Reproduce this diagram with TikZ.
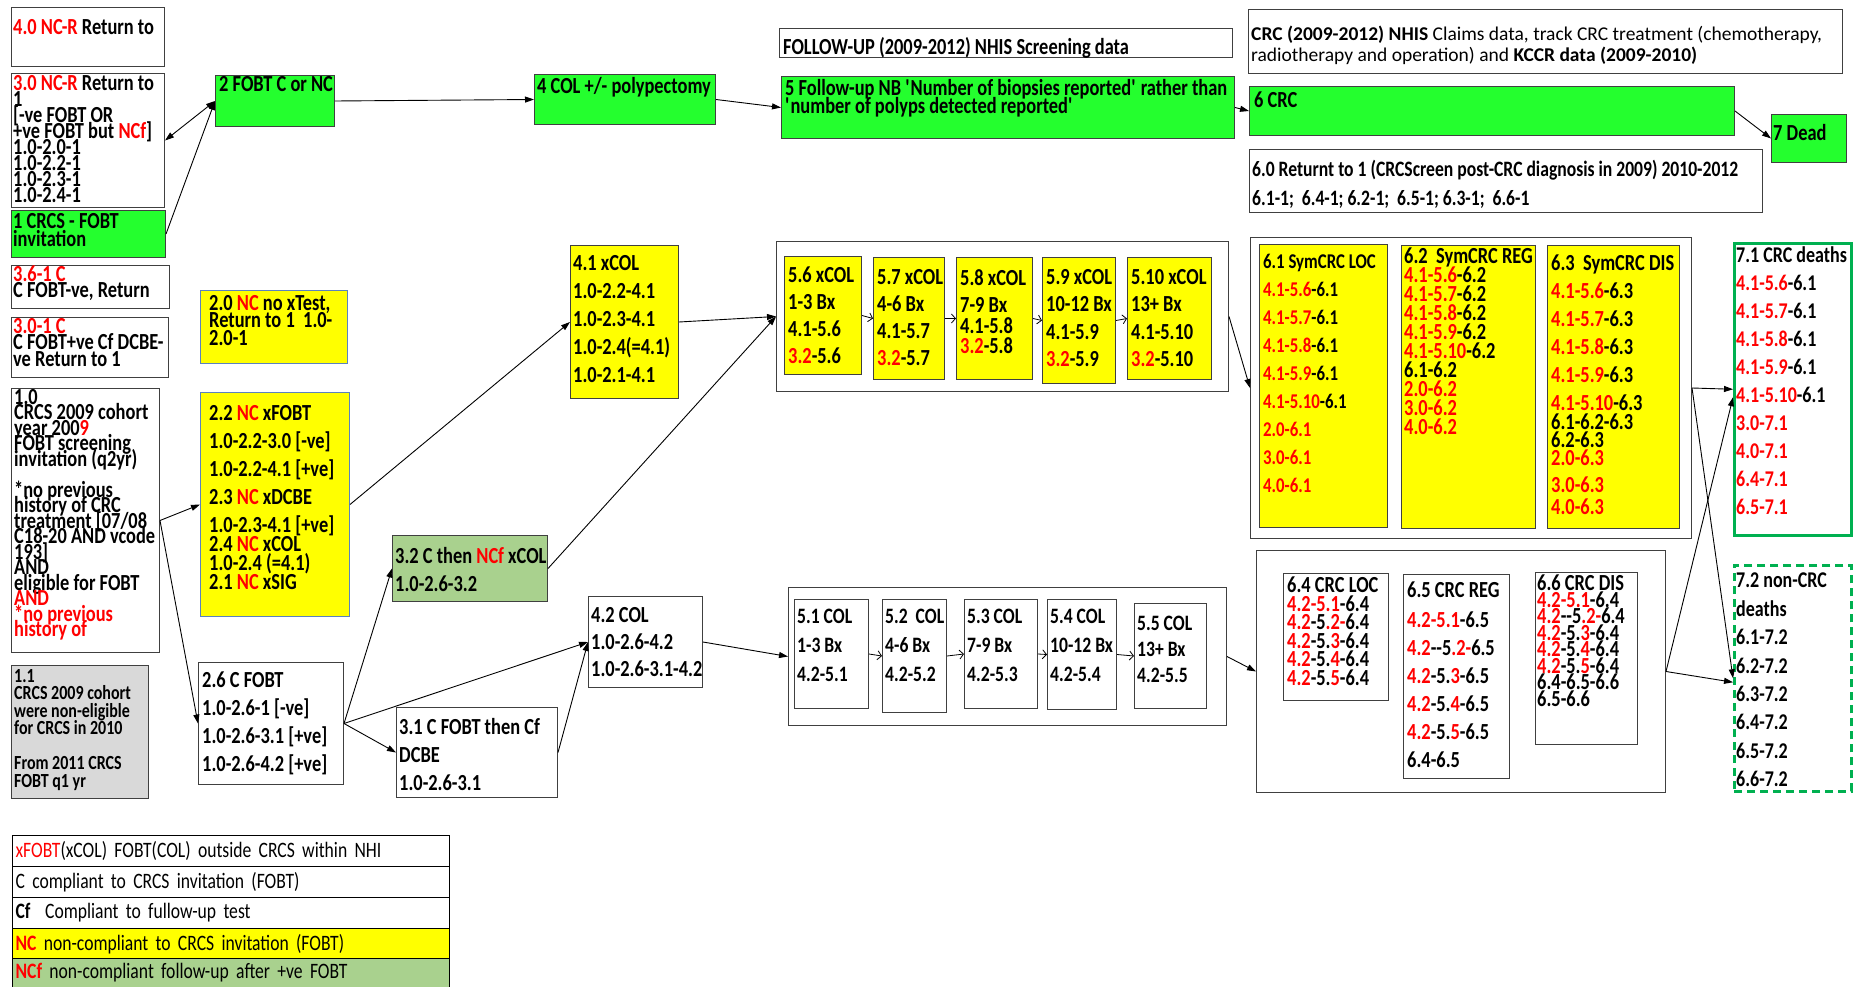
\documentclass[tikz,border=0pt]{standalone}
\usepackage{fontspec}
\setmainfont{Carlito}[FakeStretch=0.8]
\newfontfamily\plainfont{Carlito}
\usetikzlibrary{arrows.meta}
\definecolor{cgreen}{RGB}{36,255,46}
\definecolor{cyel}{RGB}{255,255,0}
\definecolor{clgreen}{RGB}{169,209,142}
\definecolor{cgrey}{RGB}{217,217,217}
\definecolor{cline}{RGB}{64,64,64}
\definecolor{cblue}{RGB}{91,130,190}
\definecolor{cdeath}{RGB}{0,176,80}
\newcommand{\rd}[1]{\textcolor{red}{#1}}
\newcommand{\fs}[2]{\fontsize{#1}{#2}\selectfont\bfseries\lineskiplimit=-100pt\lineskip=0pt\relax}
\begin{document}
\begin{tikzpicture}[x=1pt,y=-1pt,
  box/.style={draw=cline,line width=1pt,anchor=north west,inner sep=0pt},
  txt/.style={anchor=north west,align=left,inner sep=0pt,font=\fs{23}{#1}},
  txt/.default=28,
  arr/.style={-{Triangle[length=9pt,width=6pt]},line width=0.9pt},
  arrb/.style={{Triangle[length=9pt,width=6pt]}-{Triangle[length=9pt,width=6pt]},line width=0.9pt},
  arrs/.style={-{Straight Barb[length=4pt,width=9pt]},line width=0.8pt},
  leg/.style={draw=black,line width=1.2pt,anchor=north west,minimum width=437pt,minimum height=31pt,text width=431pt,align=left,inner xsep=3pt,inner ysep=0pt,font=\fs{22}{26}\mdseries}]
  \path[use as bounding box,fill=white] (0,0) rectangle (1854,987);
  % left column
  \node[box,minimum width=153pt,minimum height=59pt] (n40) at (11,7) {};
  \node[txt] (t40) at ([shift={(2,12)}]n40.north west) {\rd{4.0 NC-R} Return to};
  \node[box,minimum width=153pt,minimum height=134pt] (n30) at (11,73) {};
  \node[txt=16] (t30) at ([shift={(2,2)}]n30.north west) {\rd{3.0 NC-R} Return to\\1\\{}[-ve FOBT OR\\+ve FOBT but \rd{NCf}]\\1.0-2.0-1\\1.0-2.2-1\\1.0-2.3-1\\1.0-2.4-1};
  \node[box,fill=cgreen,minimum width=154pt,minimum height=47pt] (n1) at (11,210) {};
  \node[txt=18] (t1) at ([shift={(2,3)}]n1.north west) {1 CRCS - FOBT\\invitation};
  \node[box,minimum width=158pt,minimum height=43pt] (n361) at (11,265) {};
  \node[txt=16] (t361) at ([shift={(2,1)}]n361.north west) {\rd{3.6-1 C}\\C FOBT-ve, Return};
  \node[box,minimum width=157pt,minimum height=60pt] (n301) at (11,317) {};
  \node[txt=16.5] (t301) at ([shift={(2,1)}]n301.north west) {\rd{3.0-1 C}\\C FOBT+ve Cf DCBE-\\ve Return to 1};
  \node[box,minimum width=148pt,minimum height=264pt] (n10) at (11,388) {};
  \node[txt=15.5] (t10) at ([shift={(3,1)}]n10.north west) {1.0\\CRCS 2009 cohort\\year 200\rd{9}\\FOBT screening\\invitation (q2yr)\\\mbox{}\\{}*no previous\\history of CRC\\treatment [07/08\\C18-20 AND vcode\\193]\\AND\\eligible for FOBT\\\rd{AND}\\\rd{*no previous}\\\rd{history of}};
  \node[box,fill=cgrey,minimum width=137pt,minimum height=133pt] (n11) at (11,665) {};
  \node[txt,font=\fs{20}{17.5}] (t11) at ([shift={(3,4)}]n11.north west) {1.1\\CRCS 2009 cohort\\were non-eligible\\for CRCS in 2010\\\mbox{}\\From 2011 CRCS\\FOBT q1 yr};
  % second column
  \node[box,fill=cgreen,minimum width=119pt,minimum height=51pt] (n2) at (215,75) {};
  \node[txt] (t2) at ([shift={(4,1)}]n2.north west) {2 FOBT C or NC};
  \node[box,draw=cblue,fill=cyel,minimum width=147pt,minimum height=73pt] (n20) at (200,290) {};
  \node[txt=17.5] (t20) at ([shift={(9,5)}]n20.north west) {2.0 \rd{NC} no xTest,\\Return to 1~~1.0-\\2.0-1};
  \node[box,draw=cblue,fill=cyel,minimum width=149pt,minimum height=224pt] (n22) at (200,392) {};
  \node[txt] (t22) at ([shift={(9,13)}]n22.north west) {2.2 \rd{NC} xFOBT\\1.0-2.2-3.0 [-ve]\\1.0-2.2-4.1 [+ve]\\2.3 \rd{NC} xDCBE\\1.0-2.3-4.1 [+ve]\\[-9pt]2.4 \rd{NC} xCOL\\[-9pt]1.0-2.4 (=4.1)\\[-9pt]2.1 \rd{NC} xSIG};
  \node[box,minimum width=145pt,minimum height=122pt] (n26) at (198,662) {};
  \node[txt] (t26) at ([shift={(4,10)}]n26.north west) {2.6 C FOBT\\1.0-2.6-1 [-ve]\\1.0-2.6-3.1 [+ve]\\1.0-2.6-4.2 [+ve]};
  % third column
  \node[box,fill=cgreen,minimum width=181pt,minimum height=50pt] (n4) at (534,74) {};
  \node[txt] (t4) at ([shift={(3,3)}]n4.north west) {4 COL +/- polypectomy};
  \node[box,fill=cyel,minimum width=108pt,minimum height=153pt] (n41) at (570,245) {};
  \node[txt] (t41) at ([shift={(3,10)}]n41.north west) {4.1 xCOL\\1.0-2.2-4.1\\1.0-2.3-4.1\\1.0-2.4(=4.1)\\1.0-2.1-4.1};
  \node[box,fill=clgreen,minimum width=155pt,minimum height=66pt] (n32) at (392,535) {};
  \node[txt] (t32) at ([shift={(3,12)}]n32.north west) {3.2 C then \rd{NCf} xCOL\\1.0-2.6-3.2};
  \node[box,minimum width=114pt,minimum height=91pt] (n42) at (588,596) {};
  \node[txt=27] (t42) at ([shift={(3,11)}]n42.north west) {4.2 COL\\1.0-2.6-4.2\\1.0-2.6-3.1-4.2};
  \node[box,minimum width=161pt,minimum height=90pt] (n31) at (396,707) {};
  \node[txt] (t31) at ([shift={(3,11)}]n31.north west) {3.1 C FOBT then Cf\\DCBE\\1.0-2.6-3.1};
  % follow-up
  \node[box,minimum width=453pt,minimum height=29pt] (nfu) at (779,28) {};
  \node[txt] (tfu) at ([shift={(4,9)}]nfu.north west) {FOLLOW-UP (2009-2012) NHIS Screening data};
  \node[box,fill=cgreen,minimum width=453pt,minimum height=62pt] (n5) at (781,76) {};
  \node[txt=18] (t5) at ([shift={(4,3)}]n5.north west) {5 Follow-up NB \textquotesingle Number of biopsies reported\textquotesingle{} rather than\\\textquotesingle number of polyps detected reported\textquotesingle};
  \node[box,minimum width=452pt,minimum height=150pt] (box5x) at (776,241) {};
  \node[box,fill=cyel,minimum width=77pt,minimum height=118pt] (n56) at (784,256) {};
  \node[txt=27] (t56) at ([shift={(4,11)}]n56.north west) {5.6 xCOL\\1-3 Bx\\4.1-5.6\\\rd{3.2}-5.6};
  \node[box,fill=cyel,minimum width=71pt,minimum height=122pt] (n57) at (873,257) {};
  \node[txt=27] (t57) at ([shift={(4,12)}]n57.north west) {5.7 xCOL\\4-6 Bx\\4.1-5.7\\\rd{3.2}-5.7};
  \node[box,fill=cyel,minimum width=76pt,minimum height=122pt] (n58) at (956,257) {};
  \node[txt=27] (t58) at ([shift={(4,12)}]n58.north west) {5.8 xCOL\\7-9 Bx\\[-6pt]4.1-5.8\\[-7pt]\rd{3.2}-5.8};
  \node[box,fill=cyel,minimum width=73pt,minimum height=126pt] (n59) at (1042,257) {};
  \node[txt=27.5] (t59) at ([shift={(4,12)}]n59.north west) {5.9 xCOL\\10-12 Bx\\4.1-5.9\\\rd{3.2}-5.9};
  \node[box,fill=cyel,minimum width=84pt,minimum height=122pt] (n510) at (1127,257) {};
  \node[txt=27.5] (t510) at ([shift={(4,12)}]n510.north west) {5.10 xCOL\\13+ Bx\\4.1-5.10\\\rd{3.2}-5.10};
  \node[box,minimum width=438pt,minimum height=138pt] (box5c) at (788,587) {};
  \node[box,minimum width=74pt,minimum height=109pt] (n51) at (794,599) {};
  \node[txt,font=\fs{22}{29}] (t51) at ([shift={(3,10)}]n51.north west) {5.1 COL\\1-3 Bx\\4.2-5.1};
  \node[box,minimum width=64pt,minimum height=113pt] (n52) at (882,599) {};
  \node[txt,font=\fs{22}{29}] (t52) at ([shift={(3,10)}]n52.north west) {5.2~~COL\\4-6 Bx\\4.2-5.2};
  \node[box,minimum width=73pt,minimum height=109pt] (n53) at (964,599) {};
  \node[txt,font=\fs{22}{29}] (t53) at ([shift={(3,10)}]n53.north west) {5.3 COL\\7-9 Bx\\4.2-5.3};
  \node[box,minimum width=69pt,minimum height=110pt] (n54) at (1047,599) {};
  \node[txt,font=\fs{22}{29}] (t54) at ([shift={(3,10)}]n54.north west) {5.4 COL\\10-12 Bx\\4.2-5.4};
  \node[box,minimum width=72pt,minimum height=105pt] (n55) at (1134,603) {};
  \node[txt,font=\fs{22}{26}] (t55) at ([shift={(3,13)}]n55.north west) {5.5 COL\\13+ Bx\\4.2-5.5};
  % CRC and death
  \node[box,minimum width=594pt,minimum height=64pt] (ncrc) at (1248,9) {};
  \node[txt,font=\plainfont\fontsize{19.5}{21}\selectfont] (tcrc) at ([shift={(3,17)}]ncrc.north west) {\textbf{CRC (2009-2012) NHIS} Claims data, track CRC treatment (chemotherapy,\\radiotherapy and operation) and \textbf{KCCR data (2009-2010)}};
  \node[box,fill=cgreen,minimum width=485pt,minimum height=49pt] (n6) at (1249,86) {};
  \node[txt] (t6) at ([shift={(5,6)}]n6.north west) {6 CRC};
  \node[box,fill=cgreen,minimum width=75pt,minimum height=48pt] (n7) at (1771,114) {};
  \node[txt] (t7) at ([shift={(2,10)}]n7.north west) {7 Dead};
  \node[box,minimum width=513pt,minimum height=63pt] (n60) at (1249,149) {};
  \node[txt=29,font=\fs{22}{29}] (t60) at ([shift={(3,11)}]n60.north west) {6.0 Returnt to 1 (CRCScreen post-CRC diagnosis in 2009) 2010-2012\\6.1-1;~ 6.4-1; 6.2-1;~ 6.5-1; 6.3-1;~ 6.6-1};
  \node[box,minimum width=441pt,minimum height=301pt] (box6s) at (1250,237) {};
  \node[box,fill=cyel,minimum width=128pt,minimum height=283pt] (n61) at (1259,244) {};
  \node[txt,font=\fs{21}{28}] (t61) at ([shift={(4,10)}]n61.north west) {6.1 SymCRC LOC\\\rd{4.1-5.6}-6.1\\\rd{4.1-5.7}-6.1\\\rd{4.1-5.8}-6.1\\\rd{4.1-5.9}-6.1\\\rd{4.1-5.10}-6.1\\\rd{2.0-6.1}\\\rd{3.0-6.1}\\\rd{4.0-6.1}};
  \node[box,fill=cyel,minimum width=134pt,minimum height=283pt] (n62) at (1401,245) {};
  \node[txt=19] (t62) at ([shift={(3,3)}]n62.north west) {6.2~~SymCRC REG\\\rd{4.1-5.6}-6.2\\\rd{4.1-5.7}-6.2\\\rd{4.1-5.8}-6.2\\\rd{4.1-5.9}-6.2\\\rd{4.1-5.10}-6.2\\6.1-6.2\\\rd{2.0-6.2}\\\rd{3.0-6.2}\\\rd{4.0-6.2}};
  \node[box,fill=cyel,minimum width=132pt,minimum height=283pt] (n63) at (1547,245) {};
  \node[txt] (t63) at ([shift={(4,10)}]n63.north west) {6.3~~SymCRC DIS\\\rd{4.1-5.6}-6.3\\\rd{4.1-5.7}-6.3\\\rd{4.1-5.8}-6.3\\\rd{4.1-5.9}-6.3\\\rd{4.1-5.10}-6.3\\[-9pt]6.1-6.2-6.3\\[-10pt]6.2-6.3\\[-10pt]\rd{2.0-6.3}\\[-1pt]\rd{3.0-6.3}\\[-6pt]\rd{4.0-6.3}};
  \node[box,minimum width=409pt,minimum height=242pt] (box6c) at (1256,550) {};
  \node[box,minimum width=105pt,minimum height=127pt] (n64) at (1283,573) {};
  \node[txt=18.5] (t64) at ([shift={(4,4)}]n64.north west) {6.4 CRC LOC\\\rd{4.2-5.1}-6.4\\\rd{4.2}-5\rd{.2-}6.4\\\rd{4.2}-5.\rd{3}-6.4\\\rd{4.2}-5.\rd{4}-6.4\\\rd{4.2}-5.\rd{5}-6.4};
  \node[box,minimum width=106pt,minimum height=204pt] (n65) at (1403,574) {};
  \node[txt] (t65) at ([shift={(4,8)}]n65.north west) {6.5 CRC REG\\[2pt]\rd{4.2-5.1}-6.5\\\rd{4.2}-{}-5\rd{.2-}6.5\\\rd{4.2}-5.\rd{3}-6.5\\\rd{4.2}-5.\rd{4}-6.5\\\rd{4.2}-5.\rd{5}-6.5\\6.4-6.5};
  \node[box,minimum width=102pt,minimum height=172pt] (n66) at (1535,572) {};
  \node[txt=16.5] (t66) at ([shift={(2,3)}]n66.north west) {6.6 CRC DIS\\\rd{4.2-5.1}-6.4\\\rd{4.2}-{}-5\rd{.2-}6.4\\\rd{4.2}-5.\rd{3}-6.4\\\rd{4.2}-5.\rd{4}-6.4\\\rd{4.2}-5.\rd{5}-6.4\\6.4-6.5-6.6\\6.5-6.6};
  \node[box,draw=cdeath,line width=2.5pt,minimum width=117pt,minimum height=292pt] (n71) at (1733,242) {};
  \node[txt,font=\fs{22.5}{28}] (t71) at ([shift={(3,5)}]n71.north west) {7.1 CRC deaths\\\rd{4.1-5.6}-6.1\\\rd{4.1-5.7}-6.1\\\rd{4.1-5.8}-6.1\\\rd{4.1-5.9}-6.1\\\rd{4.1-5.10}-6.1\\\rd{3.0-7.1}\\\rd{4.0-7.1}\\\rd{6.4-7.1}\\\rd{6.5-7.1}};
  \node[box,draw=cdeath,line width=2.5pt,dash pattern=on 8pt off 5pt,minimum width=117pt,minimum height=226pt] (n72) at (1733,564) {};
  \node[txt,font=\fs{22.5}{28.4}] (t72) at ([shift={(3,9)}]n72.north west) {7.2 non-CRC\\deaths\\6.1-7.2\\6.2-7.2\\6.3-7.2\\6.4-7.2\\6.5-7.2\\6.6-7.2};
  % legend
  \node[leg] (leg1) at (12,835) {\rd{xFOBT}(xCOL) FOBT(COL) outside CRCS within NHI};
  \node[leg] (leg2) at (12,866) {C compliant to CRCS invitation (FOBT)};
  \node[leg] (leg3) at (12,897) {\textbf{Cf}~ Compliant to fullow-up test};
  \node[leg,fill=cyel] (leg4) at (12,928) {\textbf{\rd{NC}} non-compliant to CRCS invitation (FOBT)};
  \node[leg,fill=clgreen,minimum height=29pt] (leg5) at (12,958) {\textbf{\rd{NCf}} non-compliant follow-up after +ve FOBT};
  % arrows
  \draw[arr] (n1.east) -- (n2.west);
  \draw[arrb] (n2.west) -- (n30.east);
  \draw[arr] (n2.east) -- (n4.west);
  \draw[arr] (n4.east) -- (n5.west);
  \draw[arr] (n5.east) -- (n6.west);
  \draw[arr] (n6.east) -- (n7.west);
  \draw[arr] (n10.east) -- (n22.west);
  \draw[arr] (n10.east) -- (n26.west);
  \draw[arr] (n22.east) -- (n41.west);
  \draw[arr] (n41.east) -- (box5x.west);
  \draw[arr] (n32.east) -- (box5x.west);
  \draw[arr] (n26.east) -- (n32.west);
  \draw[arr] (n26.east) -- (n42.west);
  \draw[arr] (n26.east) -- (n31.west);
  \draw[arr] (n31.east) -- (n42.west);
  \draw[arr] (n42.east) -- (box5c.west);
  \draw[arr] (box5x.east) -- (box6s.west);
  \draw[arr] (box5c.east) -- (box6c.west);
  \draw[arr] (box6s.east) -- (n71.west);
  \draw[arr] (box6s.east) -- (n72.west);
  \draw[arr] (box6c.east) -- ([yshift=-8pt]n71.west);
  \draw[arr] (box6c.east) -- ([yshift=-4pt]n72.west);
  \foreach \a/\b in {n56/n57,n57/n58,n58/n59,n59/n510,n51/n52,n52/n53,n53/n54,n54/n55}
    \draw[arrs] (\a.east) -- (\b.west);
\end{tikzpicture}
\end{document}
